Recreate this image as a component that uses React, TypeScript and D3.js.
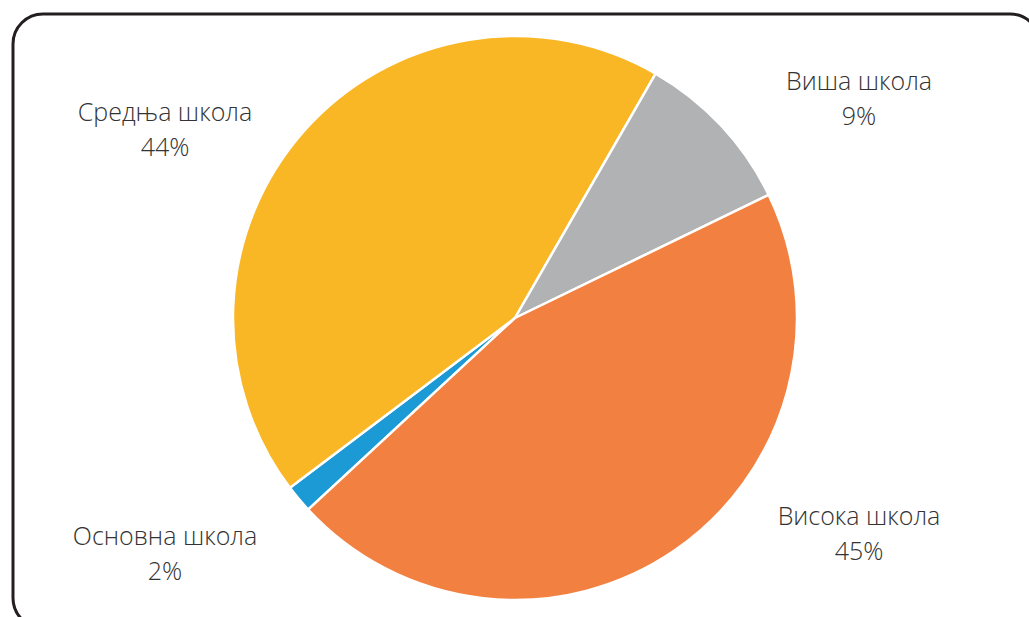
import React from "react";
import * as d3 from "d3";

const categories = ["Основна школа", "Средња школа", "Виша школа", "Висока школа"];
const values = [1.6, 43.6, 9.5, 45.3];
const percentLabels = ["2%", "44%", "9%", "45%"];
const colors = ["#1C9AD6", "#F9B625", "#B1B2B4", "#F28040"];
const labelPos: [number, number][] = [
  [165, 545],
  [165, 121],
  [859, 90],
  [859, 525],
];

export default function App() {
  const W = 1029;
  const H = 617;
  const cx = 515;
  const cy = 318;
  const r = 282;
  const start = (-132.8 * Math.PI) / 180;
  const pie = d3
    .pie<number>()
    .sort(null)
    .value((d) => d)
    .startAngle(start)
    .endAngle(start + 2 * Math.PI);
  const arcs = pie(values);
  const arc = d3.arc<d3.PieArcDatum<number>>().innerRadius(0).outerRadius(r);

  return (
    <svg
      width={W}
      height={H}
      style={{ position: "absolute", left: 0, top: 0, display: "block" }}
    >
      <rect x={0} y={0} width={W} height={H} fill="#fff" />
      <rect
        x={13}
        y={14}
        width={1027}
        height={614}
        rx={30}
        ry={30}
        fill="#fff"
        stroke="#231F20"
        strokeWidth={3}
      />
      <g transform={`translate(${cx},${cy})`}>
        {arcs.map((a, i) => (
          <path
            key={i}
            d={arc(a) || ""}
            fill={colors[i]}
            stroke="#fff"
            strokeWidth={2.5}
            strokeLinejoin="round"
          />
        ))}
      </g>
      {categories.map((c, i) => (
        <text
          key={c}
          x={labelPos[i][0]}
          y={labelPos[i][1]}
          textAnchor="middle"
          fontFamily="'Open Sans', sans-serif"
          fontWeight={300}
          fontSize={25}
          fill="#333333"
        >
          <tspan x={labelPos[i][0]}>{c}</tspan>
          <tspan x={labelPos[i][0]} dy={35}>
            {percentLabels[i]}
          </tspan>
        </text>
      ))}
    </svg>
  );
}
